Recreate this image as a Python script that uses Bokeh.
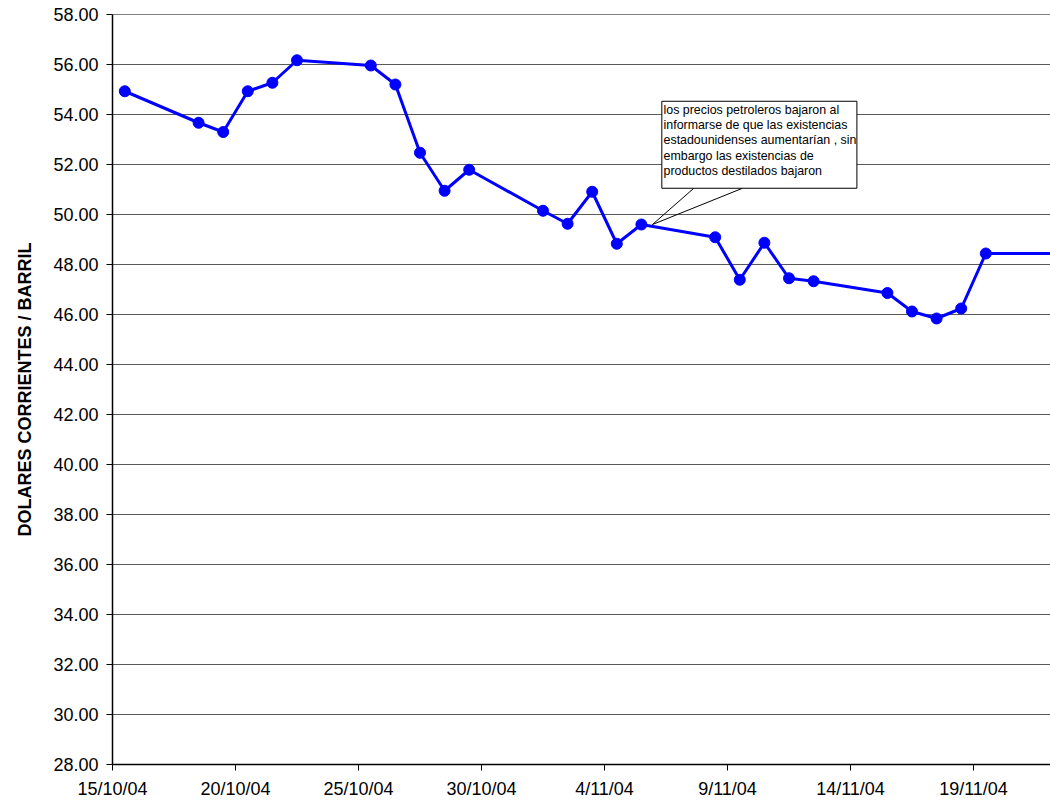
import pandas as pd
from bokeh.plotting import figure
from bokeh.models import Range1d, FixedTicker, PrintfTickFormatter, Span, BoxAnnotation, Label
from bokeh.embed import file_html
from bokeh.resources import INLINE

# ---- data ----
dates = ["15/10/04", "18/10/04", "19/10/04", "20/10/04", "21/10/04", "22/10/04",
         "25/10/04", "26/10/04", "27/10/04", "28/10/04", "29/10/04",
         "01/11/04", "02/11/04", "03/11/04", "04/11/04", "05/11/04",
         "08/11/04", "09/11/04", "10/11/04", "11/11/04", "12/11/04",
         "15/11/04", "16/11/04", "17/11/04", "18/11/04", "19/11/04", "22/11/04"]
prices = [54.93, 53.67, 53.30, 54.93, 55.27, 56.17,
          55.96, 55.20, 52.47, 50.95, 51.79,
          50.15, 49.63, 50.91, 48.83, 49.60,
          49.09, 47.39, 48.87, 47.45, 47.33,
          46.86, 46.12, 45.84, 46.24, 48.44, 48.44]
tick_labels = ["15/10/04", "20/10/04", "25/10/04", "30/10/04",
               "4/11/04", "9/11/04", "14/11/04", "19/11/04"]
note_lines = ["los precios petroleros  bajaron al",
              "informarse de que las existencias",
              "estadounidenses aumentarían , sin",
              "embargo las existencias de",
              "productos destilados bajaron"]
note_date = "05/11/04"

start = pd.to_datetime(dates[0], format="%d/%m/%y")
def day(s):
    return (pd.to_datetime(s, format="%d/%m/%y") - start).days

xs = [day(d) + 0.5 for d in dates]
tick_pos = [day(pd.to_datetime(t, format="%d/%m/%y").strftime("%d/%m/%y")) for t in tick_labels]

FONT = "Liberation Sans"

p = figure(width=1050, height=801, output_backend="svg", toolbar_location=None,
           x_range=Range1d(0, 38.13), y_range=Range1d(28, 58),
           min_border_left=112, min_border_right=0, min_border_top=14, min_border_bottom=37)
p.outline_line_color = None
p.background_fill_color = "white"
p.border_fill_color = "white"

# grid
p.xgrid.grid_line_color = None
p.ygrid.grid_line_color = "#5a5a5a"
p.ygrid.grid_line_width = 1
p.ygrid.ticker = FixedTicker(ticks=list(range(28, 59, 2)))

# y axis
p.yaxis.ticker = FixedTicker(ticks=list(range(28, 59, 2)))
p.yaxis.formatter = PrintfTickFormatter(format="%.2f")
p.yaxis.axis_label = "DOLARES CORRIENTES / BARRIL"
p.yaxis.axis_label_text_font = FONT
p.yaxis.axis_label_text_font_style = "bold"
p.yaxis.axis_label_text_font_size = "18px"
p.yaxis.axis_label_text_color = "black"
p.yaxis.axis_label_standoff = 15

# x axis
p.xaxis.ticker = FixedTicker(ticks=tick_pos)
p.xaxis.major_label_overrides = {tp: lab for tp, lab in zip(tick_pos, tick_labels)}

for ax in (p.xaxis, p.yaxis):
    ax.axis_line_color = "black"
    ax.axis_line_width = 1.5
    ax.major_tick_line_color = "black"
    ax.major_tick_line_width = 1
    ax.major_tick_out = 6
    ax.major_tick_in = 0
    ax.minor_tick_line_color = None
    ax.major_label_text_font = FONT
    ax.major_label_text_font_size = "18px"
    ax.major_label_text_color = "black"
    ax.major_label_standoff = 8

p.add_layout(Span(location=58, dimension="width", line_color="black", line_width=1.2))

# series
p.line(xs, prices, line_color="#0000FF", line_width=3)
p.scatter(xs, prices, size=11, fill_color="#0000FF", line_color="#0000FF")

# callout
nx = day(note_date) + 0.5
ny = prices[dates.index(note_date)]
box_l, box_r, box_t, box_b = 22.33, 30.26, 54.53, 51.05
p.segment(x0=[nx + 0.45, nx + 0.45], y0=[ny, ny], x1=[23.63, 25.61], y1=[box_b, box_b],
          line_color="black", line_width=1)
p.add_layout(BoxAnnotation(left=box_l, right=box_r, top=box_t, bottom=box_b,
                           fill_color="white", fill_alpha=1.0,
                           line_color="black", line_width=1, line_alpha=1.0))
p.add_layout(Label(x=box_l + 0.07, y=box_t - 0.05, text="\n".join(note_lines),
                   text_font=FONT, text_font_size="12.4px", text_color="black",
                   anchor="top_left", text_line_height=1.1))

open("out.html", "w").write(file_html(p, INLINE))
